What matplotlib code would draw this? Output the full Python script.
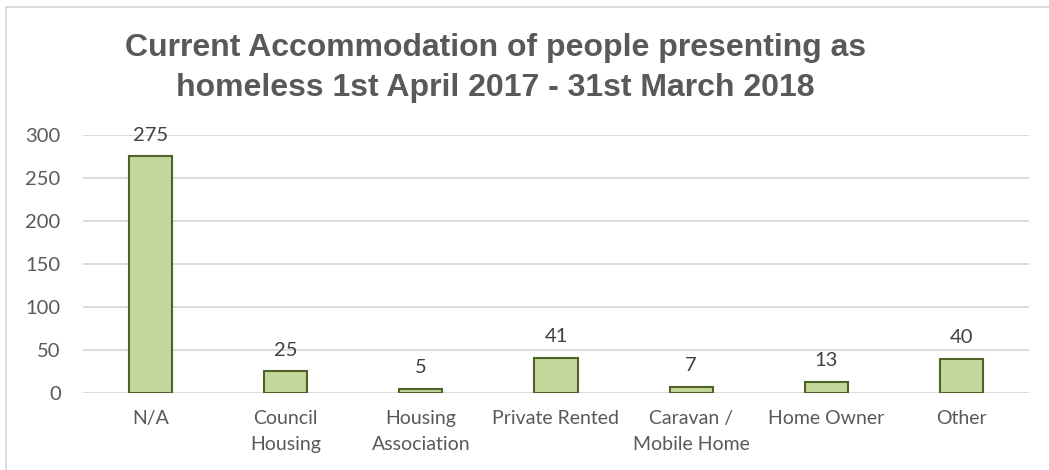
import matplotlib.pyplot as plt
from matplotlib.lines import Line2D

categories = ['N/A', 'Council\nHousing', 'Housing\nAssociation', 'Private Rented',
              'Caravan /\nMobile Home', 'Home Owner', 'Other']
counts = [275, 25, 5, 41, 7, 13, 40]
yticks = [0, 50, 100, 150, 200, 250, 300]
title = 'Current Accommodation of people presenting as\nhomeless 1st April 2017 - 31st March 2018'

plt.rcParams['font.family'] = ['Lato', 'DejaVu Sans']
grey = '#595959'

fig = plt.figure(figsize=(10.49, 4.70), dpi=100)
ax = fig.add_axes([0.079, 0.164, 0.902, 0.549])

x = range(len(categories))
bars = ax.bar(x, counts, width=0.32, color='#C4D79B', edgecolor='#4F6228',
              linewidth=1.5, zorder=3)
for b, v in zip(bars, counts):
    ax.annotate(str(v), (b.get_x() + b.get_width() / 2, v), xytext=(0, 9),
                textcoords='offset points', ha='center', va='bottom',
                fontsize=14.5, color='#404040')

ax.set_xlim(-0.5, len(categories) - 0.5)
ax.set_ylim(0, 300)
ax.set_yticks(yticks)
ax.set_xticks(list(x))
ax.set_xticklabels(categories, fontsize=14, color=grey, linespacing=1.65)
ax.tick_params(axis='y', labelsize=14.5, labelcolor=grey, length=0, pad=16)
ax.tick_params(axis='x', length=0, pad=12)
ax.grid(axis='y', color='#D9D9D9', linewidth=1.3, zorder=0)
for s in ax.spines.values():
    s.set_visible(False)

fig.text(0.472, 0.855, title, ha='center', va='center', fontsize=23,
         fontweight='bold', color=grey, family='Liberation Sans',
         linespacing=1.42)

# chart border (top and left visible)
fig.add_artist(Line2D([6 / 1049, 1.0], [1 - 7 / 470, 1 - 7 / 470],
                      transform=fig.transFigure, color='#D9D9D9', lw=1.3))
fig.add_artist(Line2D([6 / 1049, 6 / 1049], [0, 1 - 7 / 470],
                      transform=fig.transFigure, color='#D9D9D9', lw=1.3))

fig.savefig('out.png', dpi=100)
